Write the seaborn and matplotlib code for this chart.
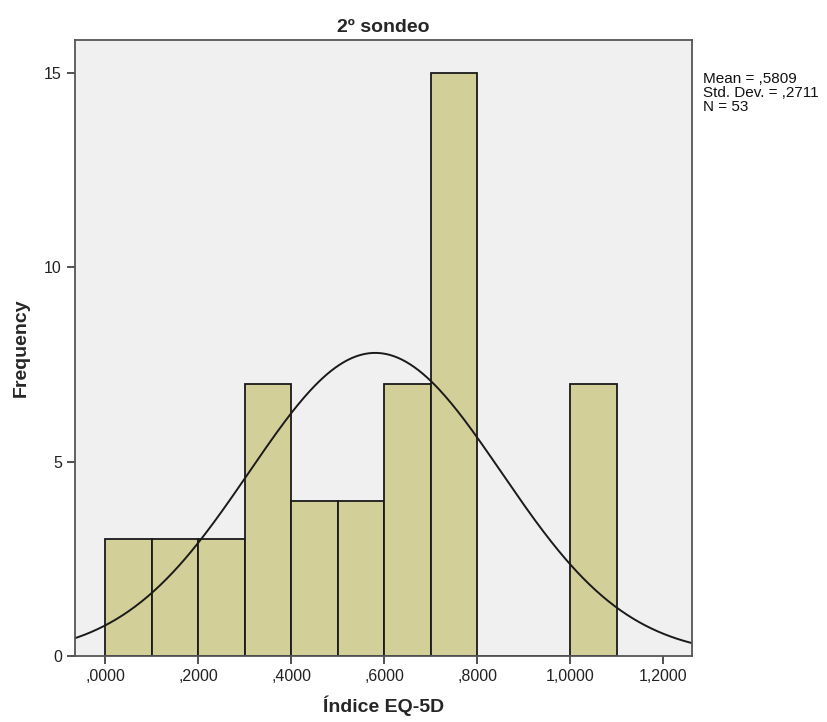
import numpy as np
import pandas as pd
import seaborn as sns
from matplotlib import pyplot as plt
from matplotlib.ticker import FuncFormatter

# histogram data
bin_edges = [0.0, 0.1, 0.2, 0.3, 0.4, 0.5, 0.6, 0.7, 0.8, 0.9, 1.0, 1.1]
bin_counts = [3, 3, 3, 7, 4, 4, 7, 15, 0, 0, 7]
mean_val = 0.5809
std_val = 0.2711
n_val = 53

sns.set_theme(style='white')
plt.rcParams['font.family'] = ['Liberation Sans', 'DejaVu Sans']

centers = [(a + b) / 2 for a, b in zip(bin_edges[:-1], bin_edges[1:])]
df = pd.DataFrame({'x': centers, 'w': bin_counts})

fig = plt.figure(figsize=(8.28, 7.22), dpi=100)
ax = fig.add_axes([0.0906, 0.0914, 0.7451, 0.8532])
ax.set_facecolor('#f0f0f0')

sns.histplot(data=df, x='x', weights='w', bins=bin_edges, ax=ax,
             color='#d3cf98', alpha=1, edgecolor='#1a1a1a', linewidth=1.3)

# normal curve scaled to counts
xs = np.linspace(-0.07, 1.27, 300)
binw = bin_edges[1] - bin_edges[0]
ys = n_val * binw / (std_val * np.sqrt(2 * np.pi)) * np.exp(-0.5 * ((xs - mean_val) / std_val) ** 2)
sns.lineplot(x=xs, y=ys, ax=ax, color='#1a1a1a', linewidth=1.4)

ax.set_xlim(-0.0645, 1.262)
ax.set_ylim(0, 15.85)
ax.set_xticks([0, 0.2, 0.4, 0.6, 0.8, 1.0, 1.2])
ax.set_yticks([0, 5, 10, 15])


def fmt_x(v, pos):
    s = '{:.4f}'.format(v).replace('.', ',')
    if s.startswith('0,'):
        s = s[1:]
    return s


ax.xaxis.set_major_formatter(FuncFormatter(fmt_x))
ax.tick_params(axis='both', which='major', direction='out', length=6, width=1.2,
               color='#333333', labelsize=11.5, labelcolor='#222222',
               bottom=True, left=True)

for sp in ax.spines.values():
    sp.set_color('#555555')
    sp.set_linewidth(1.3)

ax.set_title('2º sondeo', fontsize=14, fontweight='bold', pad=6)
ax.set_xlabel('Índice EQ-5D', fontsize=14, fontweight='bold', labelpad=8)
ax.set_ylabel('Frequency', fontsize=14, fontweight='bold', labelpad=10)

fig.text(0.849, 0.900, 'Mean = ,5809\nStd. Dev. = ,2711\nN = 53',
         fontsize=11, va='top', ha='left', linespacing=1.0, color='#111111')

plt.savefig('out.png', dpi=100)
